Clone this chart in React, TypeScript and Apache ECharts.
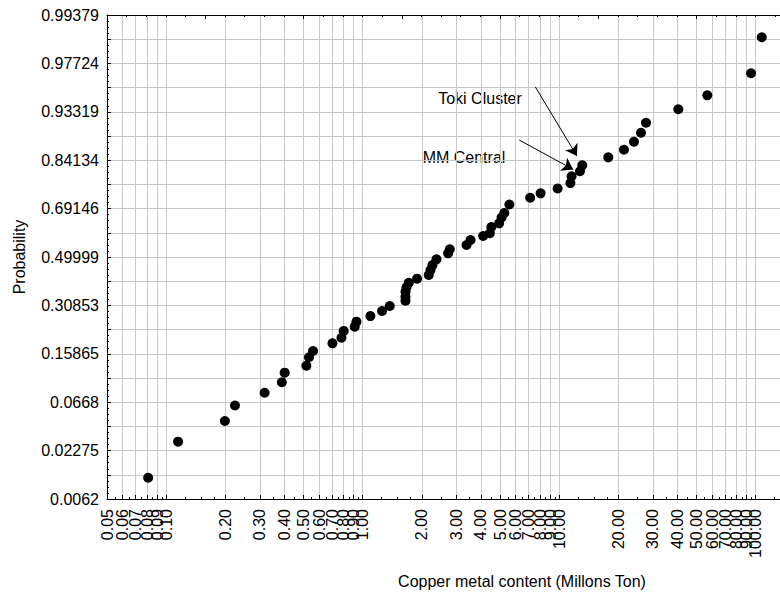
import React, { useEffect, useRef } from "react";
import * as echarts from "echarts";

// ---- data (copper metal content, Mt, and cumulative probability) ----
const copperContentMt = [
  0.081, 0.115, 0.199, 0.224, 0.317, 0.388, 0.401, 0.517, 0.533, 0.559,
  0.702, 0.78, 0.801, 0.911, 0.93, 1.095, 1.255, 1.374, 1.652, 1.652,
  1.652, 1.671, 1.717, 1.892, 2.17, 2.214, 2.267, 2.375, 2.721, 2.776,
  3.378, 3.539, 4.104, 4.438, 4.518, 4.95, 5.091, 5.261, 5.58, 7.12,
  8.045, 9.82, 11.41, 11.57, 12.76, 13.11, 17.78, 21.37, 24.03, 26.09,
  27.66, 40.4, 56.75, 94.76, 107.4,
];
const cumulativeProbability = [
  0.0113, 0.0282, 0.04513, 0.06252, 0.08046, 0.09784, 0.11604, 0.13072, 0.15011, 0.16577,
  0.1862, 0.20214, 0.22244, 0.23576, 0.25207, 0.27093, 0.28842, 0.30643, 0.326, 0.3409,
  0.36017, 0.37714, 0.39512, 0.41138, 0.42622, 0.4467, 0.46693, 0.49043, 0.51516, 0.53188,
  0.54934, 0.56985, 0.58589, 0.59677, 0.62172, 0.63608, 0.65836, 0.67544, 0.70609, 0.72973,
  0.74473, 0.76053, 0.77756, 0.79786, 0.81219, 0.82818, 0.84849, 0.86607, 0.88318, 0.90043,
  0.91728, 0.93649, 0.95254, 0.97115, 0.9884,
];

const xTickValues = [
  0.05, 0.06, 0.07, 0.08, 0.09, 0.1, 0.2, 0.3, 0.4, 0.5, 0.6, 0.7, 0.8, 0.9,
  1, 2, 3, 4, 5, 6, 7, 8, 9, 10, 20, 30, 40, 50, 60, 70, 80, 90, 100,
];
const xMinorMultipliers = [1.25, 1.5, 1.75, 2.5, 3.5, 4.5, 5.5, 6.5, 7.5, 8.5, 9.5];
const xMinorDecades = [0.01, 0.1, 1, 10, 100];

const probTickZ = [-2.5, -2, -1.5, -1, -0.5, 0, 0.5, 1, 1.5, 2, 2.5];
const probTickLabels = [
  "0.0062", "0.02275", "0.0668", "0.15865", "0.30853", "0.49999",
  "0.69146", "0.84134", "0.93319", "0.97724", "0.99379",
];

const xAxisTitle = "Copper metal content (Millons Ton)";
const yAxisTitle = "Probability";
const annotationTexts = ["Toki Cluster", "MM Central"];

// inverse standard normal CDF (Acklam)
function probit(p: number): number {
  const a = [-3.969683028665376e1, 2.209460984245205e2, -2.759285104469687e2, 1.38357751867269e2, -3.066479806614716e1, 2.506628277459239];
  const b = [-5.447609879822406e1, 1.615858368580409e2, -1.556989798598866e2, 6.680131188771972e1, -1.328068155288572e1];
  const c = [-7.784894002430293e-3, -3.223964580411365e-1, -2.400758277161838, -2.549732539343734, 4.374664141464968, 2.938163982698783];
  const d = [7.784695709041462e-3, 3.224671290700398e-1, 2.445134137142996, 3.754408661907416];
  const plow = 0.02425;
  if (p < plow) {
    const q = Math.sqrt(-2 * Math.log(p));
    return (((((c[0] * q + c[1]) * q + c[2]) * q + c[3]) * q + c[4]) * q + c[5]) /
      ((((d[0] * q + d[1]) * q + d[2]) * q + d[3]) * q + 1);
  }
  if (p <= 1 - plow) {
    const q = p - 0.5;
    const r = q * q;
    return ((((((a[0] * r + a[1]) * r + a[2]) * r + a[3]) * r + a[4]) * r + a[5]) * q) /
      (((((b[0] * r + b[1]) * r + b[2]) * r + b[3]) * r + b[4]) * r + 1);
  }
  const q = Math.sqrt(-2 * Math.log(1 - p));
  return -(((((c[0] * q + c[1]) * q + c[2]) * q + c[3]) * q + c[4]) * q + c[5]) /
    ((((d[0] * q + d[1]) * q + d[2]) * q + d[3]) * q + 1);
}

const FONT = '"Liberation Sans", Arial, Helvetica, sans-serif';
const GRID_COLOR = "#c8c8c8";

export default function App() {
  const ref = useRef<HTMLDivElement>(null);

  useEffect(() => {
    if (!ref.current) return;
    const chart = echarts.init(ref.current, null, { renderer: "svg" });

    const xMin = Math.log10(0.05);
    const xMax = Math.log10(133);
    const xTickLogs = xTickValues.map((v) => Math.log10(v));
    // labels split over two axes so that ECharts does not drop overlapping neighbours
    const xLabelLogsA = xTickLogs.filter((_, i) => i % 2 === 0);
    const xLabelLogsB = xTickLogs.filter((_, i) => i % 2 === 1);
    const minorLogs: number[] = [];
    xMinorDecades.forEach((dec) =>
      xMinorMultipliers.forEach((m) => {
        const l = Math.log10(dec * m);
        if (l > xMin && l < xMax) minorLogs.push(l);
      })
    );

    const data = copperContentMt.map((v, i) => [Math.log10(v), probit(cumulativeProbability[i])]);

    const axisLine = { show: true, onZero: false, lineStyle: { color: "#000", width: 1 } };
    const tickLine = { color: "#000", width: 1 };
    const xLabelBase = {
      rotate: 90,
      margin: 10,
      fontSize: 16,
      fontFamily: FONT,
      color: "#000",
      hideOverlap: false,
      formatter: (v: number) => Math.pow(10, v).toFixed(2),
    };

    chart.setOption({
      animation: false,
      grid: { left: 107, top: 15, right: 0, bottom: 95 },
      xAxis: [
        {
          type: "value",
          position: "bottom",
          min: xMin,
          max: xMax,
          axisLine,
          axisTick: { show: true, inside: true, length: 4, customValues: xTickLogs, lineStyle: tickLine },
          axisLabel: { ...xLabelBase, customValues: xLabelLogsA },
          splitLine: { show: true, lineStyle: { color: GRID_COLOR, width: 1 } },
        },
        {
          type: "value",
          position: "bottom",
          min: xMin,
          max: xMax,
          axisLine: { show: false, onZero: false },
          axisTick: { show: true, inside: true, length: 2, customValues: minorLogs, lineStyle: tickLine },
          axisLabel: { ...xLabelBase, customValues: xLabelLogsB },
          splitLine: { show: false },
        },
        {
          type: "value",
          position: "top",
          min: xMin,
          max: xMax,
          interval: 0.5,
          axisLine,
          axisTick: { show: true, inside: true, length: 4, lineStyle: tickLine },
          minorTick: { show: true, splitNumber: 5, length: 2, lineStyle: tickLine },
          axisLabel: { show: false },
          splitLine: { show: false },
        },
      ],
      yAxis: {
        type: "value",
        min: -2.5,
        max: 2.5,
        interval: 0.25,
        axisLine,
        axisTick: { show: true, inside: true, length: 4, lineStyle: tickLine },
        minorTick: { show: true, splitNumber: 4, length: 2, lineStyle: tickLine },
        axisLabel: {
          customValues: probTickZ,
          margin: 8,
          fontSize: 16,
          fontFamily: FONT,
          color: "#000",
          hideOverlap: false,
          showMinLabel: true,
          showMaxLabel: true,
          formatter: (v: number) => {
            const i = probTickZ.findIndex((z) => Math.abs(z - v) < 1e-6);
            return i >= 0 ? probTickLabels[i] : "";
          },
        },
        splitLine: { show: true, lineStyle: { color: GRID_COLOR, width: 1 } },
        name: yAxisTitle,
        nameLocation: "middle",
        nameGap: 80,
        nameTextStyle: { fontSize: 16, fontFamily: FONT, color: "#000" },
      },
      series: [
        {
          type: "scatter",
          xAxisIndex: 0,
          yAxisIndex: 0,
          data,
          symbol: "circle",
          symbolSize: 10,
          itemStyle: { color: "#000", opacity: 1 },
          emphasis: { disabled: true },
          markLine: {
            silent: true,
            symbol: ["none", "arrow"],
            symbolSize: 11,
            label: { show: false },
            lineStyle: { color: "#000", width: 1, type: "solid", opacity: 1 },
            emphasis: { disabled: true },
            data: [
              [{ coord: [0.879, 1.756] }, { coord: [1.0904, 1.0434] }],
              [{ coord: [0.7965, 1.2087] }, { coord: [1.0715, 0.9039] }],
            ],
          },
        },
      ],
      graphic: [
        {
          type: "text",
          x: 522,
          y: 581,
          style: { text: xAxisTitle, fontSize: 16, fontFamily: FONT, fill: "#000", align: "center", verticalAlign: "middle" },
        },
        {
          type: "text",
          x: 480,
          y: 98,
          style: { text: annotationTexts[0], fontSize: 16, fontFamily: FONT, fill: "#000", align: "center", verticalAlign: "middle" },
        },
        {
          type: "text",
          x: 464,
          y: 157,
          style: { text: annotationTexts[1], fontSize: 16, fontFamily: FONT, fill: "#000", align: "center", verticalAlign: "middle" },
        },
      ],
    });

    return () => chart.dispose();
  }, []);

  return (
    <div
      ref={ref}
      style={{ position: "fixed", left: 0, top: 0, width: 780, height: 594, background: "#fff" }}
    />
  );
}
